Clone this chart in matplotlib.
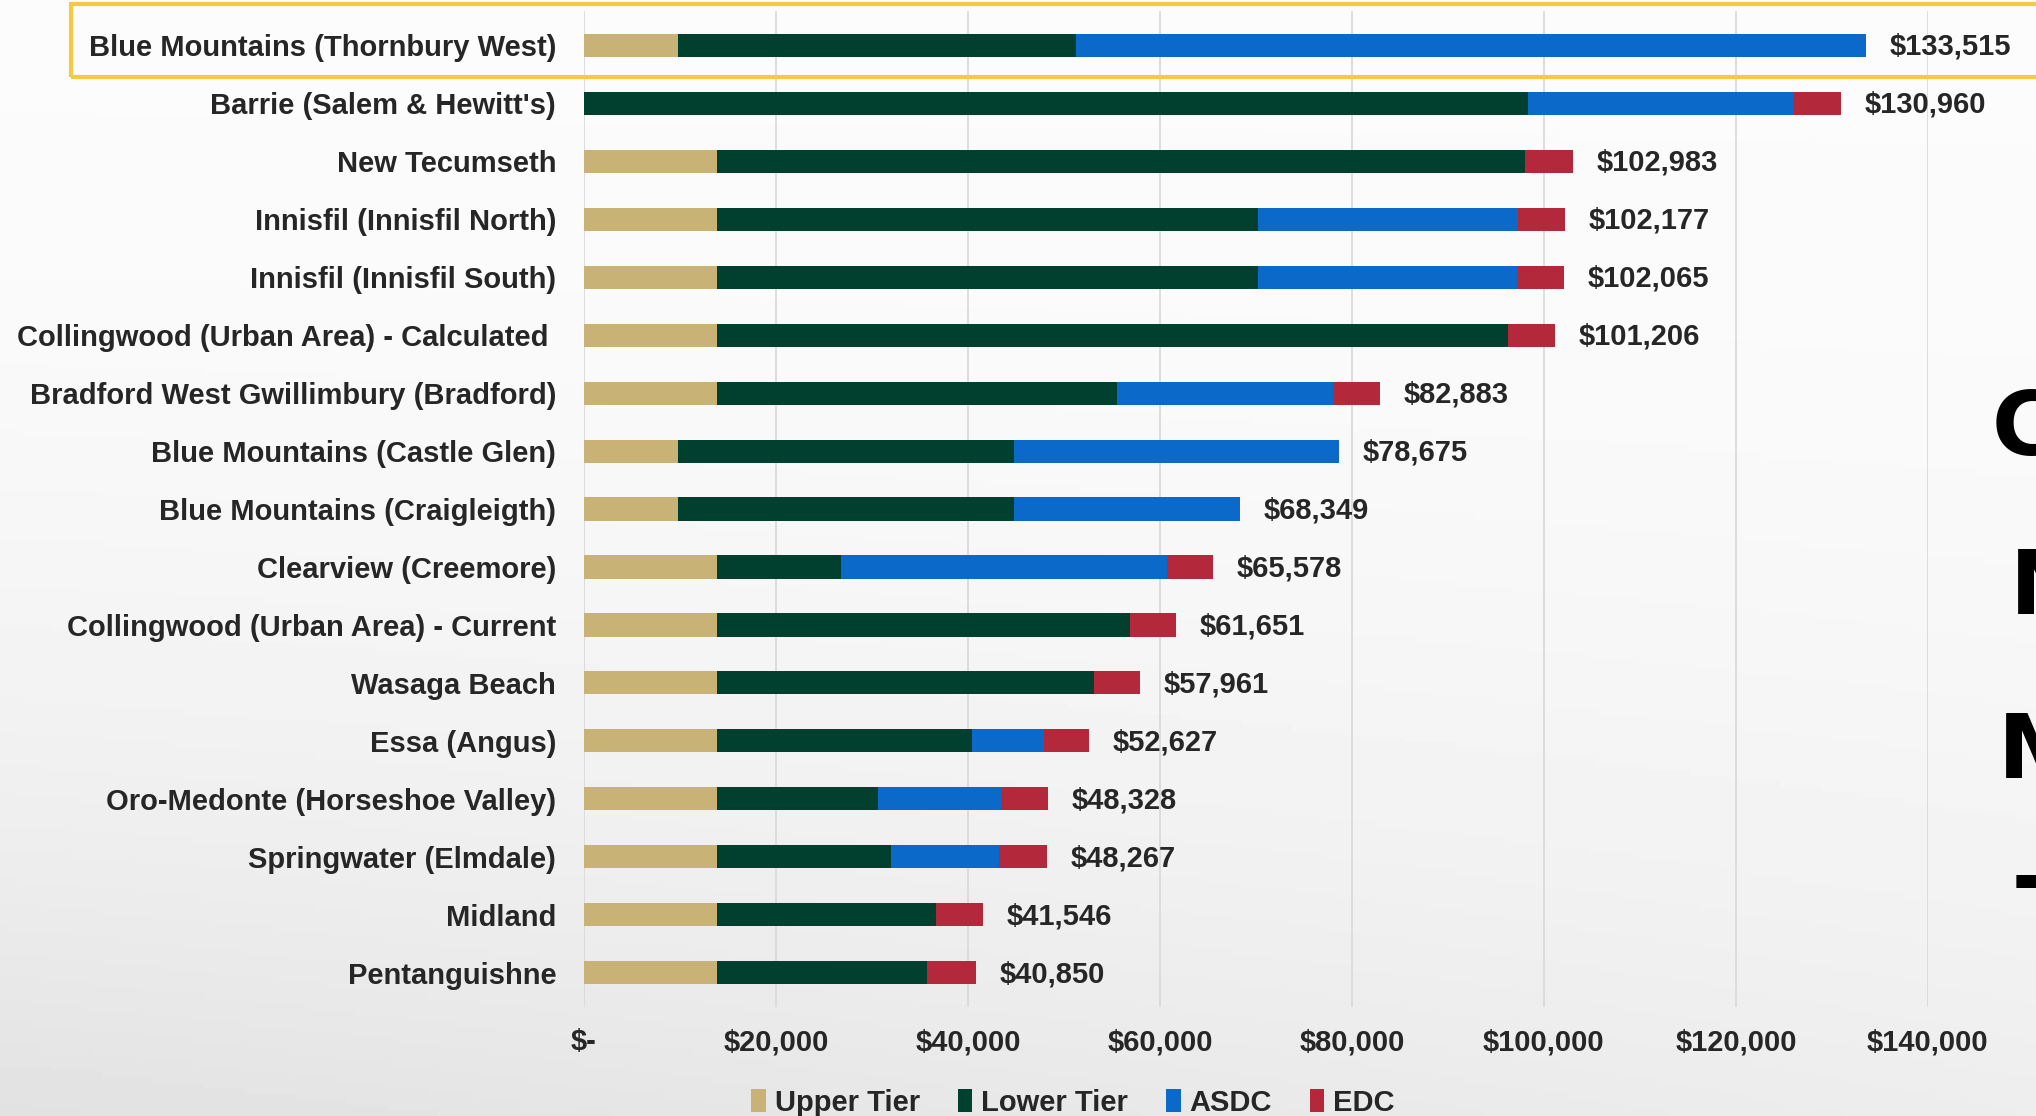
import numpy as np
import matplotlib
matplotlib.use("Agg")
import matplotlib.pyplot as plt
from matplotlib.patches import Rectangle

plt.rcParams["font.family"] = ["Liberation Sans", "DejaVu Sans"]

# ---- data ----
categories = [
    "Blue Mountains (Thornbury West)",
    "Barrie (Salem & Hewitt's)",
    "New Tecumseth",
    "Innisfil (Innisfil North)",
    "Innisfil (Innisfil South)",
    "Collingwood (Urban Area) - Calculated ",
    "Bradford West Gwillimbury (Bradford)",
    "Blue Mountains (Castle Glen)",
    "Blue Mountains (Craigleigth)",
    "Clearview (Creemore)",
    "Collingwood (Urban Area) - Current",
    "Wasaga Beach",
    "Essa (Angus)",
    "Oro-Medonte (Horseshoe Valley)",
    "Springwater (Elmdale)",
    "Midland",
    "Pentanguishne",
]

upper_tier = [9800, 0, 13900, 13900, 13900, 13900, 13900, 9800, 9800,
              13900, 13900, 13900, 13900, 13900, 13900, 13900, 13900]
lower_tier = [41500, 98350, 84080, 56300, 56300, 82380, 41600, 35050, 35050,
              12870, 42940, 39230, 26520, 16700, 18070, 22780, 21840]
asdc = [82215, 27700, 0, 27090, 26950, 0, 22520, 33825, 23499,
        34000, 0, 0, 7480, 12800, 11260, 0, 0]
edc = [0, 4910, 5003, 4887, 4915, 4926, 4863, 0, 0,
       4808, 4811, 4831, 4727, 4928, 5037, 4866, 5110]

totals = [133515, 130960, 102983, 102177, 102065, 101206, 82883, 78675, 68349,
          65578, 61651, 57961, 52627, 48328, 48267, 41546, 40850]

series_names = ["Upper Tier", "Lower Tier", "ASDC", "EDC"]
series_colors = ["#C8B275", "#013F2E", "#0B69C9", "#B3283A"]

x_ticks = [0, 20000, 40000, 60000, 80000, 100000, 120000, 140000]
x_tick_labels = ["$-", "$20,000", "$40,000", "$60,000", "$80,000",
                 "$100,000", "$120,000", "$140,000"]

overlay_letters = ["C", "N", "M", "T"]

text_color = "#262626"
font_size = 21

fig = plt.figure(figsize=(20.36, 11.16), dpi=100)

# soft background like the video frame
bg = fig.add_axes([0, 0, 1, 1], zorder=-10)
gx, gy = np.meshgrid(np.linspace(0, 1, 200), np.linspace(0, 1, 200))
shade = 0.985 - 0.10 * (gy ** 2.2) * (1 - 0.45 * gx)
bg.imshow(shade, cmap="gray", vmin=0, vmax=1, aspect="auto",
          extent=[0, 1, 0, 1], origin="upper")
bg.axis("off")

ax = fig.add_axes([0.2868, 0.0973, 0.6601, 0.8931])
ax.patch.set_alpha(0)

y_pos = np.arange(len(categories))
left = np.zeros(len(categories))

for values, color, name in zip(
    [upper_tier, lower_tier, asdc, edc], series_colors, series_names
):
    ax.barh(y_pos, values, left=left, height=0.40,
            color=color, label=name, zorder=3)
    left = left + np.array(values)

for i, total in enumerate(totals):
    ax.annotate(
        f"${total:,}",
        xy=(total, i),
        xytext=(17, -1),
        textcoords="offset points",
        va="center",
        ha="left",
        fontsize=font_size,
        fontweight="bold",
        color=text_color,
        annotation_clip=False,
    )

ax.set_ylim(len(categories) - 1 + 0.6, -0.6)
ax.set_yticks(y_pos)
ax.set_yticklabels(categories, fontsize=font_size,
                   fontweight="bold", color=text_color)

ax.set_xlim(0, 140000)
ax.set_xticks(x_ticks)
ax.set_xticklabels(x_tick_labels, fontsize=font_size,
                   fontweight="bold", color=text_color)

ax.tick_params(axis="y", length=0, pad=20)
ax.tick_params(axis="x", length=0, pad=15)

ax.grid(axis="x", color="#DADADA", linewidth=1.3, zorder=0)
ax.grid(axis="y", visible=False)

for spine in ax.spines.values():
    spine.set_visible(False)

fig.legend(
    loc="center",
    bbox_to_anchor=(0.527, 0.012),
    ncol=4,
    frameon=False,
    handlelength=0.5,
    handleheight=0.8,
    handletextpad=0.3,
    columnspacing=1.3,
    prop={"weight": "bold", "size": font_size},
)
for txt in fig.legends[0].get_texts():
    txt.set_color(text_color)

# yellow highlight round the first row
fig.patches.append(
    Rectangle(
        (71 / 2036, 1 - 77 / 1116),
        0.99,
        73 / 1116,
        transform=fig.transFigure,
        fill=False,
        edgecolor="#F6C945",
        linewidth=3,
        zorder=5,
    )
)

# cut off overlay letters at the right edge (cropped in the reference too)
letter_y = [430, 590, 753, 915]
letter_x = [1992, 2010, 1998, 2016]
for letter, lx, ly in zip(overlay_letters, letter_x, letter_y):
    fig.text(lx / 2036, 1 - ly / 1116, letter,
             fontsize=64, fontweight="heavy", color="black",
             family="DejaVu Sans", va="center", ha="left")

fig.savefig("out.png", dpi=100)
plt.close(fig)
